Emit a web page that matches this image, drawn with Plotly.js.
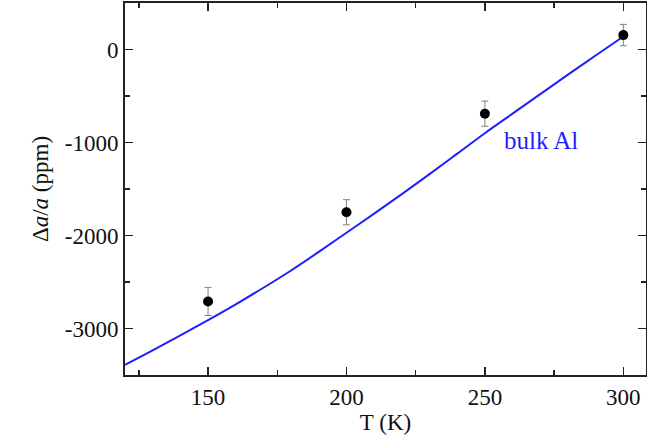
<!DOCTYPE html>
<html>
<head>
<meta charset="utf-8">
<script src="https://cdn.plot.ly/plotly-3.0.1.min.js"></script>
<style>html,body{margin:0;padding:0;background:#fff;}#chart{width:647px;height:435px;}</style>
</head>
<body>
<div id="chart"></div>
<script>
// Measured data
const tempPoints = [150, 200, 250, 300];
const strainPoints = [-2710, -1750, -690, 155];
const strainErrors = [150, 135, 135, 115];

// Bulk Al reference curve
const tempBulk = [120, 130, 140, 150, 160, 170, 180, 190, 200, 210, 220, 230, 240, 250, 260, 270, 280, 290, 300];
const strainBulk = [-3390, -3235, -3075, -2910, -2740, -2562, -2376, -2176, -1970, -1765, -1555, -1340, -1120, -900, -690, -480, -270, -65, 140];

// Tick labels
const xTickVals = [150, 200, 250, 300];
const xTickText = ["150", "200", "250", "300"];
const yTickVals = [0, -1000, -2000, -3000];
const yTickText = ["0", "-1000", "-2000", "-3000"];

const curveLabel = "bulk Al";
const xTitle = "T (K)";
const yTitle = "Δ<i>a</i>/<i>a</i> (ppm)";

const font = "Liberation Serif";

const traces = [
  {
    x: tempBulk, y: strainBulk, type: 'scatter', mode: 'lines',
    line: {color: '#1f1fff', width: 2, shape: 'spline', smoothing: 1}, hoverinfo: 'skip'
  },
  {
    x: tempPoints, y: strainPoints, type: 'scatter', mode: 'markers',
    marker: {color: '#000', size: 10},
    error_y: {type: 'data', array: strainErrors, visible: true, color: '#808080', thickness: 1, width: 3.5}
  }
];

const axisCommon = {
  showgrid: false, zeroline: false, showline: true, linecolor: '#222', linewidth: 2,
  mirror: 'ticks', ticks: 'inside', ticklen: 8, tickwidth: 1.5, tickcolor: '#222',
  tickfont: {family: font, size: 23, color: '#111'}
};

const layout = {
  width: 647, height: 435,
  margin: {l: 125, r: 1, t: 3, b: 60},
  paper_bgcolor: '#fff', plot_bgcolor: '#fff',
  showlegend: false,
  font: {family: font, color: '#111'},
  xaxis: Object.assign({}, axisCommon, {
    range: [120, 308.2], tickmode: 'array', tickvals: xTickVals, ticktext: xTickText,
    minor: {tickmode: 'linear', tick0: 0, dtick: 25, ticks: 'inside', ticklen: 5, tickwidth: 1.5, tickcolor: '#222'},
    title: {text: xTitle, font: {family: font, size: 23, color: '#111'}, standoff: 2}
  }),
  yaxis: Object.assign({}, axisCommon, {
    range: [-3500, 500], tickmode: 'array', tickvals: yTickVals, ticktext: yTickText,
    minor: {tickmode: 'linear', tick0: 0, dtick: 500, ticks: 'inside', ticklen: 5, tickwidth: 1.5, tickcolor: '#222'},
    title: {text: yTitle, font: {family: font, size: 23, color: '#111'}, standoff: 10}
  }),
  annotations: [{
    x: 256.2, y: -977, xref: 'x', yref: 'y', text: curveLabel, showarrow: false,
    xanchor: 'left', yanchor: 'middle',
    font: {family: font, size: 25, color: '#1f1fff'}
  }]
};

Plotly.newPlot('chart', traces, layout, {displayModeBar: false, staticPlot: true});
</script>
</body>
</html>
